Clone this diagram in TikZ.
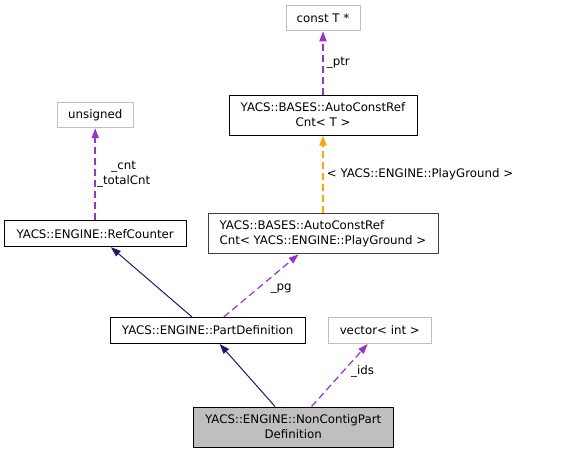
\documentclass[tikz,border=0pt]{standalone}
\usepackage{fontspec}
\setmainfont{DejaVu Sans}
\usetikzlibrary{arrows.meta}
\definecolor{usecol}{HTML}{9A32CD}
\definecolor{tplcol}{HTML}{FFA500}
\definecolor{inhcol}{HTML}{191970}
\definecolor{extgray}{HTML}{BFBFBF}
\tikzset{
  cls/.style={draw=black, line width=1pt, minimum height=26pt, inner sep=0pt,
    font=\fontsize{11.8}{15}\selectfont, align=center},
  extcls/.style={cls, draw=extgray},
  lbl/.style={font=\fontsize{11.8}{15}\selectfont, inner sep=1pt, align=center},
  uses/.style={draw=usecol, dash pattern=on 7pt off 4pt, line width=1.2pt,
    -{Triangle[length=10pt,width=7pt,fill=usecol]}},
  vuses/.style={uses, line width=1.8pt},
  tpl/.style={draw=tplcol, dash pattern=on 7pt off 4pt, line width=1.8pt,
    -{Triangle[length=10pt,width=7pt,fill=tplcol]}},
  inh/.style={draw=inhcol, line width=1pt,
    -{Triangle[length=10pt,width=7pt,fill=inhcol]}}
}
\begin{document}
\begin{tikzpicture}[x=1pt, y=-1pt]
\useasboundingbox (0,0) rectangle (563,453);
\node[extcls, minimum width=74pt, minimum height=25pt] (cptr) at (323,18.3) {const T *};
\node[cls, minimum width=188pt, minimum height=40pt] (acrT) at (323,115) {YACS::BASES::AutoConstRef\\Cnt< T >};
\node[extcls, minimum width=76pt, minimum height=25pt] (uns) at (95.2,115.2) {unsigned};
\node[cls, minimum width=182pt] (rc) at (95.2,233.7) {YACS::ENGINE::RefCounter};
\node[cls, draw=black!75, minimum width=230pt, minimum height=40pt, align=left] (acrPG) at (323,233.8) {YACS::BASES::AutoConstRef\\Cnt< YACS::ENGINE::PlayGround >};
\node[cls, minimum width=195pt] (pd) at (207.7,330.5) {YACS::ENGINE::PartDefinition};
\node[extcls, minimum width=103pt] (vec) at (379.8,330.5) {vector< int >};
\node[cls, fill=extgray, minimum width=200pt, minimum height=40pt] (nc) at (293.2,427) {YACS::ENGINE::NonContigPart\\Definition};
\draw[vuses] (acrT) -- node[lbl, midway, anchor=west, xshift=2pt] {\_ptr} (cptr);
\draw[vuses] (rc) -- node[lbl, midway, anchor=west] {\_cnt\\\_totalCnt} (uns);
\draw[tpl] (acrPG) -- node[lbl, midway, anchor=west, xshift=2pt] {< YACS::ENGINE::PlayGround >} (acrT);
\draw[inh] (pd) -- (rc);
\draw[uses] (pd) -- node[lbl, midway, anchor=west, xshift=8pt, yshift=-3pt] {\_pg} (acrPG);
\draw[inh] (nc) -- (pd);
\draw[uses] (nc) -- node[lbl, midway, anchor=west, xshift=10pt, yshift=4pt] {\_ids} (vec);
\end{tikzpicture}
\end{document}
